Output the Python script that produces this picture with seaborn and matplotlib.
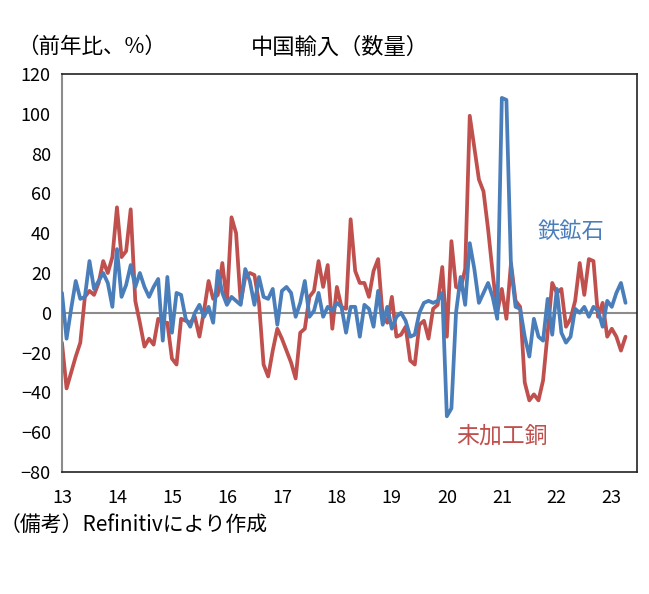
import numpy as np
import pandas as pd
import matplotlib
matplotlib.use("Agg")
import matplotlib.pyplot as plt
import seaborn as sns

# 月次データ（2013年1月～2023年4月）、前年比 %
years = ["13", "14", "15", "16", "17", "18", "19", "20", "21", "22", "23"]

iron_ore = [
    10, -13, 2, 16, 7, 8, 26, 12, 16, 20, 15, 3,
    32, 8, 14, 24, 13, 20, 13, 8, 13, 17, -14, 18,
    -10, 10, 9, -3, -7, 0, 4, -2, 3, -5, 21, 10,
    4, 8, 6, 4, 22, 16, 4, 18, 8, 7, 12, -6,
    11, 13, 10, -2, 5, 16, -2, 1, 10, -2, 3, 1,
    5, 3, -10, 3, 3, -12, 4, 2, -7, 11, -6, 3,
    -8, -2, 0, -4, -12, -11, 0, 5, 6, 5, 6, 10,
    -52, -48, 0, 18, 4, 35, 22, 5, 10, 15, 8, -3,
    108, 107, 23, 3, 2, -12, -22, -3, -12, -14, 7, -11,
    12, -10, -15, -12, 2, 0, 3, -2, 3, 1, -7, 6,
    3, 10, 15, 5,
]

copper = [
    -15, -38, -30, -22, -15, 8, 11, 9, 15, 26, 20, 28,
    53, 28, 31, 52, 6, -5, -17, -13, -16, -3, -5, -5,
    -23, -26, -3, -4, -5, -2, -12, 1, 16, 7, 9, 25,
    5, 48, 40, 5, 18, 20, 19, 5, -26, -32, -19, -8,
    -13, -19, -25, -33, -10, -8, 8, 11, 26, 13, 24, -8,
    13, 3, 2, 47, 21, 15, 15, 8, 21, 27, -2, -5,
    8, -12, -11, -7, -24, -26, -6, -4, -13, 2, 4, 23,
    -12, 36, 13, 12, 22, 99, 83, 67, 61, 42, 20, 0,
    12, -3, 25, 6, 3, -35, -44, -41, -44, -34, -10, 15,
    10, 12, -7, -3, 6, 25, 9, 27, 26, -2, 5, -12,
    -8, -12, -19, -12,
]

blue = "#4A7EBB"
red = "#C0504D"

df = pd.DataFrame({
    "month": np.arange(len(iron_ore)),
    "鉄鉱石": iron_ore,
    "未加工銅": copper,
})

sns.set_style("white")
plt.rcParams["font.family"] = ["Noto Sans CJK JP", "DejaVu Sans"]
plt.rcParams["text.color"] = "black"
plt.rcParams["xtick.color"] = "black"
plt.rcParams["ytick.color"] = "black"

fig = plt.figure(figsize=(6.49, 5.94), dpi=100)
ax = fig.add_axes([0.0955, 0.2054, 0.886, 0.670])

ax.axhline(0, color="#8c8c8c", lw=1.5, zorder=1)
sns.lineplot(data=df, x="month", y="鉄鉱石", color=blue, lw=2.7, ax=ax, zorder=3)
sns.lineplot(data=df, x="month", y="未加工銅", color=red, lw=2.7, ax=ax, zorder=2)

ax.set_xlim(0, 125.5)
ax.set_ylim(-80, 120)
ax.set_yticks(range(-80, 121, 20))
ax.set_xticks(np.arange(len(years)) * 12)
ax.set_xticklabels(years)
ax.set_xlabel("")
ax.set_ylabel("")
ax.tick_params(axis="y", direction="out", length=5, color="#8c8c8c", width=1.2,
               labelsize=13, pad=3, labelcolor="black")
ax.tick_params(axis="x", length=0, labelsize=13, pad=12, labelcolor="black")

for side in ["top", "right", "bottom"]:
    ax.spines[side].set_color("#222222")
    ax.spines[side].set_linewidth(1.2)
ax.spines["left"].set_color("#8c8c8c")
ax.spines["left"].set_linewidth(1.5)

fig.text(0.026, 0.921, "（前年比、%）", fontsize=15.5, ha="left", va="center")
fig.text(0.524, 0.921, "中国輸入（数量）", fontsize=16, ha="center", va="center")
ax.text(111, 41, "鉄鉱石", color=blue, fontsize=16, ha="center", va="center")
ax.text(96, -62, "未加工銅", color=red, fontsize=16.5, ha="center", va="center")
fig.text(0.0, 0.116, "（備考）Refinitivにより作成", fontsize=15, ha="left", va="center")

fig.savefig("out.png", dpi=100)
